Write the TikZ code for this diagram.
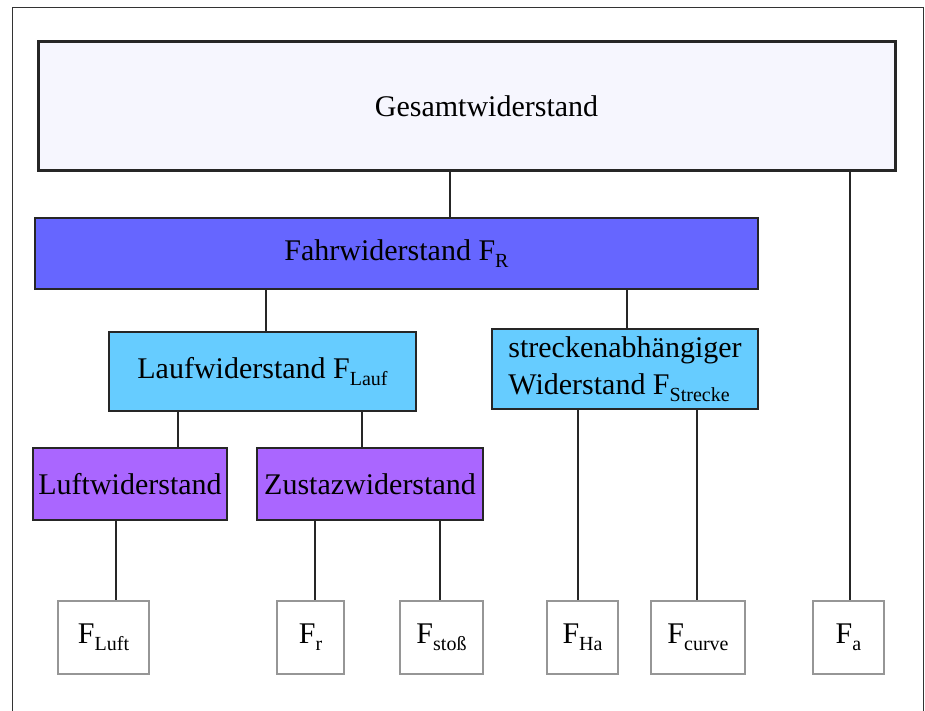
\documentclass[tikz,border=0pt]{standalone}
\usepackage{fontspec}
\setmainfont{Liberation Serif}
\usepackage{tikz}

\definecolor{gesamtfill}{RGB}{246,246,254}
\definecolor{fahrfill}{RGB}{102,102,255}
\definecolor{lauffill}{RGB}{102,204,255}
\definecolor{luftfill}{RGB}{170,102,255}
\definecolor{kraftdraw}{RGB}{150,150,150}

\newcommand{\subtxt}[1]{\raisebox{-7pt}{\fontsize{20}{20}\selectfont #1}}

\begin{document}
\begin{tikzpicture}[x=1pt,y=-1pt,
    font=\fontsize{30}{37}\selectfont,
    box/.style={draw=black!85,line width=1.5pt,inner sep=0pt},
    kraft/.style={draw=kraftdraw,line width=1.5pt,fill=white,inner sep=0pt,minimum height=73pt},
    link/.style={black!85,line width=1.5pt}]
      \useasboundingbox (0,0) rectangle (925,711);
      % Rahmen
      \draw[black!80,line width=1pt] (12,711) -- (12,8) -- (923,8) -- (923,711);
      % Gesamt
      \node[box,line width=3pt,fill=gesamtfill,minimum width=857pt,minimum height=129pt]
        (gesamt) at (466.5,106.5) {\hspace*{40pt}Gesamtwiderstand};
      % F_R
      \node[box,fill=fahrfill,minimum width=723pt,minimum height=71pt]
        (fahr) at (396.5,253.5) {Fahrwiderstand F\subtxt{R}};
      % F_Lauf, F_Strecke
      \node[box,fill=lauffill,minimum width=307pt,minimum height=79pt]
        (lauf) at (262.5,371.5) {Laufwiderstand F\subtxt{Lauf}};
      \node[box,fill=lauffill,minimum width=266pt,minimum height=80pt,align=left]
        (strecke) at (625,369) {streckenabhängiger\\Widerstand F\subtxt{Strecke}};
      % Luft, Zusatz
      \node[box,fill=luftfill,minimum width=194pt,minimum height=72pt]
        (luft) at (130,484) {Luftwiderstand};
      \node[box,fill=luftfill,minimum width=226pt,minimum height=72pt]
        (zusatz) at (370,484) {Zustazwiderstand};
      % Einzelkraefte
      \node[kraft,minimum width=91pt] (fluft) at (103.5,637.5) {F\subtxt{Luft}};
      \node[kraft,minimum width=67pt] (fr) at (310.5,637.5) {F\subtxt{r}};
      \node[kraft,minimum width=83pt] (fstoss) at (441.5,637.5) {F\subtxt{stoß}};
      \node[kraft,minimum width=71pt] (fha) at (582.5,637.5) {F\subtxt{Ha}};
      \node[kraft,minimum width=94pt] (fcurve) at (698,637.5) {F\subtxt{curve}};
      \node[kraft,minimum width=71pt] (fa) at (848.5,637.5) {F\subtxt{a}};
      % Verbindungen
      \draw[link] (gesamt.south -| 450,0) -- (fahr.north -| 450,0);
      \draw[link] (gesamt.south -| 850,0) -- (fa.north -| 850,0);
      \draw[link] (fahr.south -| 266,0) -- (lauf.north -| 266,0);
      \draw[link] (fahr.south -| 627,0) -- (strecke.north -| 627,0);
      \draw[link] (lauf.south -| 178,0) -- (luft.north -| 178,0);
      \draw[link] (lauf.south -| 362,0) -- (zusatz.north -| 362,0);
      \draw[link] (luft.south -| 116,0) -- (fluft.north -| 116,0);
      \draw[link] (zusatz.south -| 315,0) -- (fr.north -| 315,0);
      \draw[link] (zusatz.south -| 440,0) -- (fstoss.north -| 440,0);
      \draw[link] (strecke.south -| 578,0) -- (fha.north -| 578,0);
      \draw[link] (strecke.south -| 697,0) -- (fcurve.north -| 697,0);
    \end{tikzpicture}
\end{document}
